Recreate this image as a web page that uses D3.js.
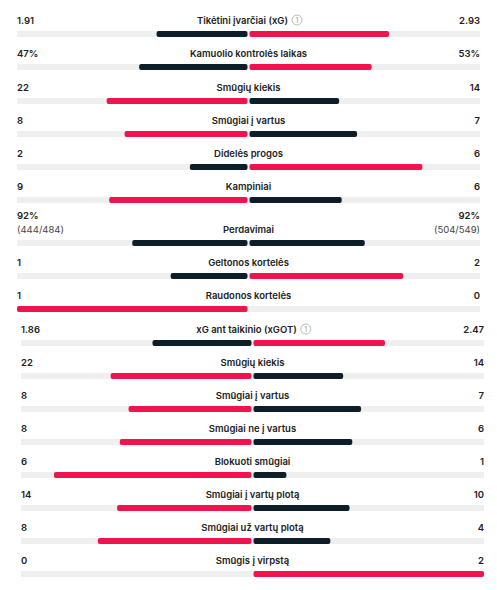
<!DOCTYPE html>
<html><head><meta charset="utf-8">
<script src="https://cdn.jsdelivr.net/npm/d3@7"></script>
<style>body{margin:0;background:#fff;font-family:Inter,"Noto Sans",sans-serif;}</style>
</head><body><svg id="chart"></svg>
<script>
var width = 497, height = 590;

// Chart data
var labels = ["Tikėtini įvarčiai (xG)", "Kamuolio kontrolės laikas", "Smūgių kiekis", "Smūgiai į vartus", "Didelės progos", "Kampiniai", "Perdavimai", "Geltonos kortelės", "Raudonos kortelės",
  "xG ant taikinio (xGOT)", "Smūgių kiekis", "Smūgiai į vartus", "Smūgiai ne į vartus", "Blokuoti smūgiai", "Smūgiai į vartų plotą", "Smūgiai už vartų plotą", "Smūgis į virpstą"];
var homeVals = [1.91, 47, 22, 8, 2, 9, 92, 1, 1, 1.86, 22, 8, 8, 6, 14, 8, 0];
var awayVals = [2.93, 53, 14, 7, 6, 6, 92, 2, 0, 2.47, 14, 7, 6, 1, 10, 4, 2];
var homeText = ["1.91", "47%", "22", "8", "2", "9", "92%", "1", "1", "1.86", "22", "8", "8", "6", "14", "8", "0"];
var awayText = ["2.93", "53%", "14", "7", "6", "6", "92%", "2", "0", "2.47", "14", "7", "6", "1", "10", "4", "2"];
var homeSub = {6: "(444/484)"}, awaySub = {6: "(504/549)"};
var infoRows = [0, 9];
var labelY = [20, 53, 87, 120, 153, 186, 229, 262, 295, 329, 362, 395, 428, 461, 494, 527, 560];

var dark = "#0e1e29", red = "#f0134d";

var svg = d3.select("#chart").attr("width", width).attr("height", height);

labels.forEach(function (lab, i) {
    var sec2 = i >= 9;
    var x0 = sec2 ? 21 : 17, x1 = sec2 ? 484 : 480;
    var mid = (x0 + x1) / 2;
    var y = labelY[i];
    var total = homeVals[i] + awayVals[i];
    var left = d3.scaleLinear().domain([0, total]).range([mid - 1, x0]);
    var right = d3.scaleLinear().domain([0, total]).range([mid + 1, x1]);
    var g = svg.append("g");
    var hasInfo = infoRows.indexOf(i) >= 0;

    var t = g.append("text").attr("x", hasInfo ? mid - 6 : mid).attr("y", y + 3.5).attr("text-anchor", "middle")
        .style("font-size", "9.5px").style("font-weight", 600).attr("fill", "#222").text(lab);
    if (hasInfo) {
        var tw = t.node().getComputedTextLength();
        var cx = mid - 6 + tw / 2 + 9;
        g.append("circle").attr("cx", cx).attr("cy", y).attr("r", 5)
            .attr("fill", "none").attr("stroke", "#aaa").attr("stroke-width", 0.8);
        g.append("text").attr("x", cx).attr("y", y + 2.5).attr("text-anchor", "middle")
            .style("font-size", "7px").attr("fill", "#999").text("1");
    }
    var vy = homeSub[i] ? y - 14 : y;
    g.append("text").attr("x", x0).attr("y", vy + 3.5)
        .style("font-size", "9.5px").style("font-weight", 600).attr("fill", "#222").text(homeText[i]);
    g.append("text").attr("x", x1).attr("y", vy + 3.5).attr("text-anchor", "end")
        .style("font-size", "9.5px").style("font-weight", 600).attr("fill", "#222").text(awayText[i]);
    if (homeSub[i]) {
        g.append("text").attr("x", x0).attr("y", y + 3.5).style("font-size", "9.5px").attr("fill", "#444").text(homeSub[i]);
        g.append("text").attr("x", x1).attr("y", y + 3.5).attr("text-anchor", "end").style("font-size", "9.5px").attr("fill", "#444").text(awaySub[i]);
    }

    var by = y + 11;
    g.append("rect").attr("x", x0).attr("y", by).attr("width", x1 - x0).attr("height", 6).attr("fill", "#efefef");
    var hc = homeVals[i] > awayVals[i] ? red : dark;
    var ac = awayVals[i] > homeVals[i] ? red : dark;
    if (homeVals[i] > 0)
        g.append("rect").attr("x", left(homeVals[i])).attr("y", by).attr("width", left(0) - left(homeVals[i]))
            .attr("height", 6).attr("rx", 2).attr("fill", hc);
    if (awayVals[i] > 0)
        g.append("rect").attr("x", right(0)).attr("y", by).attr("width", right(awayVals[i]) - right(0))
            .attr("height", 6).attr("rx", 2).attr("fill", ac);
});
</script>
</body></html>
